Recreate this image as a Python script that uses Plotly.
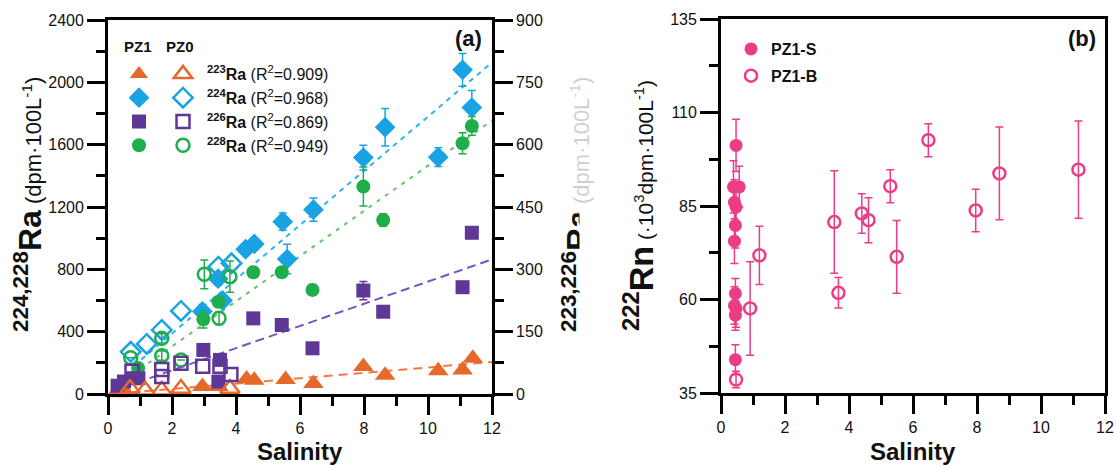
import plotly.graph_objects as go

W, H = 1116, 468
FONT = "Liberation Sans, Arial, sans-serif"

# ---------------- Panel (a): radium isotopes vs salinity ----------------
# 224Ra / 228Ra use the left axis, 223Ra / 226Ra the right axis (dpm/100L)
ra223_pz1_sal = [0.25, 0.4, 0.55, 2.95, 3.45, 4.33, 4.57, 5.55, 6.42, 7.98, 8.66, 10.32, 11.08, 11.4]
ra223_pz1_val = [3, 5, 4, 18, 18, 36, 33, 35, 25, 66, 45, 56, 58, 86]
ra223_pz0_sal = [0.69, 1.16, 1.68, 2.28, 3.81]
ra223_pz0_val = [13, 9, 9, 13, 13]

ra224_pz1_sal = [2.95, 3.44, 3.58, 4.3, 4.57, 5.46, 5.6, 6.42, 7.98, 8.66, 10.32, 11.08, 11.37]
ra224_pz1_val = [530, 740, 600, 929, 963, 1106, 866, 1183, 1517, 1712, 1520, 2080, 1838]
ra224_pz1_err = [45, 40, 30, 30, 40, 55, 95, 75, 80, 120, 60, 105, 110]
ra224_pz0_sal = [0.71, 1.21, 1.68, 2.28, 3.45, 3.86]
ra224_pz0_val = [271, 321, 411, 533, 817, 839]

ra226_pz1_sal = [0.3, 0.5, 0.75, 0.95, 2.98, 3.45, 3.5, 4.54, 5.43, 6.39, 7.98, 8.6, 11.08, 11.37]
ra226_pz1_val = [20, 30, 38, 38, 106, 30, 82, 182, 166, 110, 249, 198, 257, 388]
ra226_pz1_err = [0, 0, 0, 0, 0, 0, 0, 0, 0, 0, 22, 0, 0, 10]
ra226_pz0_sal = [0.75, 1.68, 1.68, 2.28, 2.96, 3.5, 3.84]
ra226_pz0_val = [55, 59, 42, 74, 67, 67, 47]

ra228_pz1_sal = [0.94, 2.98, 3.45, 4.54, 5.43, 6.39, 7.98, 8.6, 11.08, 11.37]
ra228_pz1_val = [167, 479, 592, 781, 781, 668, 1331, 1117, 1609, 1720]
ra228_pz1_err = [0, 55, 0, 0, 0, 35, 125, 40, 68, 60]
ra228_pz0_sal = [0.71, 1.68, 1.68, 2.28, 3.01, 3.47, 3.81]
ra228_pz0_val = [233, 357, 246, 218, 768, 486, 753]
ra228_pz0_err = [None, 30, 30, None, 92, 40, 100]

# Linear fits drawn as dashed lines (slope, intercept, first salinity)
fit_slope = [6.5, 174.0, 26.7, 145.0]
fit_intercept = [-1.0, 40.0, 3.5, 15.0]
fit_start = [0.2, 0.8, 1.3, 1.0]
fit_end = 12.0

isotopes = ["223", "224", "226", "228"]
r_squared = ["0.909", "0.968", "0.869", "0.949"]

# ---------------- Panel (b): 222Rn vs salinity ----------------
rn_s_sal = [0.47, 0.39, 0.57, 0.42, 0.47, 0.45, 0.42, 0.45, 0.42, 0.47, 0.45, 0.45]
rn_s_val = [101.2, 90.1, 90.1, 86.0, 84.7, 79.8, 75.6, 61.6, 58.4, 57.6, 55.8, 43.9]
rn_s_err = [7.0, 7.0, 5.5, 6.0, 6.0, 6.0, 6.0, 4.0, 5.0, 5.0, 4.0, 4.0]
rn_b_sal = [0.47, 0.91, 1.2, 3.54, 3.67, 4.4, 4.61, 5.29, 5.49, 6.48, 7.96, 8.7, 11.17]
rn_b_val = [38.6, 57.6, 71.8, 80.7, 61.8, 83.0, 81.2, 90.3, 71.4, 102.6, 83.8, 93.7, 94.7]
rn_b_err = [2.2, 12.5, 7.8, 13.7, 4.1, 5.3, 6.0, 4.4, 9.7, 4.4, 5.7, 12.4, 13.0]

# ---------------- Styling ----------------
COL = {"223": "#E5692B", "224": "#1AA3E3", "226": "#5F3797", "228": "#1FAE4B"}
FIT_COL = {"223": "#F4783F", "224": "#2AB5EE", "226": "#7A52C4", "228": "#5FC765"}
FIT_DASH = {"223": "9px,6px", "224": "5px,5px", "226": "9px,5px", "228": "4px,6px"}
SYM = {"223": "triangle-up", "224": "diamond", "226": "square", "228": "circle"}
SIZE = {"223": 18, "224": 16, "226": 14, "228": 14}
PINK = "#EC3C85"


def px_x(x):
    return x / W


def px_y(y):
    return 1 - y / H


series = {
    "223": (ra223_pz1_sal, ra223_pz1_val, None, ra223_pz0_sal, ra223_pz0_val, None),
    "224": (ra224_pz1_sal, ra224_pz1_val, ra224_pz1_err, ra224_pz0_sal, ra224_pz0_val, None),
    "226": (ra226_pz1_sal, ra226_pz1_val, ra226_pz1_err, ra226_pz0_sal, ra226_pz0_val, None),
    "228": (ra228_pz1_sal, ra228_pz1_val, ra228_pz1_err, ra228_pz0_sal, ra228_pz0_val, ra228_pz0_err),
}
right_axis = {"223", "226"}

fig = go.Figure()


def err_dict(err, color):
    if err is None:
        return None
    return dict(type="data", array=err, visible=True, color=color, thickness=1.5, width=4)


# regression lines first so the markers sit on top
for iso, m, b, x0 in zip(isotopes, fit_slope, fit_intercept, fit_start):
    xs = [x0, fit_end]
    fig.add_trace(go.Scatter(
        x=xs, y=[m * v + b for v in xs], mode="lines",
        line=dict(color=FIT_COL[iso], width=2, dash=FIT_DASH[iso]),
        yaxis="y2" if iso in right_axis else "y", xaxis="x",
        showlegend=False, hoverinfo="skip"))

# PZ1 (filled) markers -> first legend column
for iso in isotopes:
    s1, v1, e1, s0, v0, e0 = series[iso]
    fig.add_trace(go.Scatter(
        x=s1, y=v1, mode="markers", name="",
        marker=dict(symbol=SYM[iso], size=SIZE[iso], color=COL[iso], line=dict(width=0)),
        error_y=err_dict(e1, COL[iso]), cliponaxis=False,
        xaxis="x", yaxis="y2" if iso in right_axis else "y",
        legend="legend", legendgroup="a1" + iso))

# PZ0 (open) markers -> second legend column with the labels
for iso, r2 in zip(isotopes, r_squared):
    s1, v1, e1, s0, v0, e0 = series[iso]
    fig.add_trace(go.Scatter(
        x=s0, y=v0, mode="markers",
        name=f"<b><sup>{iso}</sup>Ra</b> (R<sup>2</sup>=" + r2 + ")",
        marker=dict(symbol=SYM[iso] + "-open", size=SIZE[iso] - 1, color=COL[iso],
                    line=dict(width=2.5, color=COL[iso])),
        error_y=err_dict(e0, COL[iso]), cliponaxis=False,
        xaxis="x", yaxis="y2" if iso in right_axis else "y",
        legend="legend2", legendgroup="a0" + iso))

# Panel (b)
fig.add_trace(go.Scatter(
    x=rn_s_sal, y=rn_s_val, mode="markers", name="<b>PZ1-S</b>",
    marker=dict(symbol="circle", size=13, color=PINK, line=dict(width=0)),
    error_y=dict(type="data", array=rn_s_err, color=PINK, thickness=1.5, width=4),
    xaxis="x3", yaxis="y3", legend="legend3", legendgroup="bS", cliponaxis=False))
fig.add_trace(go.Scatter(
    x=rn_b_sal, y=rn_b_val, mode="markers", name="<b>PZ1-B</b>",
    marker=dict(symbol="circle-open", size=12, color=PINK, line=dict(width=2.5, color=PINK)),
    error_y=dict(type="data", array=rn_b_err, color=PINK, thickness=1.5, width=4),
    xaxis="x3", yaxis="y3", legend="legend3", legendgroup="bB", cliponaxis=False))

# ---------------- Axes ----------------
LW = 2.8
tickfont = dict(family=FONT, size=16, color="#111")
common = dict(showgrid=False, zeroline=False, showline=True, linecolor="black", linewidth=LW,
              ticks="outside", ticklen=18, tickwidth=LW, tickcolor="black", tickfont=tickfont,
              automargin=False)

ax_a = [px_x(108), px_x(492)]
ay_a = [px_y(394), px_y(20)]
ax_b = [px_x(721), px_x(1105)]
ay_b = [px_y(393), px_y(19)]

fig.update_layout(
    xaxis=dict(domain=ax_a, range=[0, 12], dtick=2, mirror=True, anchor="y",
               minor=dict(dtick=1, ticklen=9, tickwidth=LW, tickcolor="black", ticks="outside"),
               **common),
    yaxis=dict(domain=ay_a, range=[0, 2400], dtick=400, anchor="x",
               minor=dict(dtick=200, ticklen=9, tickwidth=LW, tickcolor="black", ticks="outside"),
               **common),
    yaxis2=dict(range=[0, 900], dtick=150, overlaying="y", side="right", anchor="x",
                minor=dict(dtick=75, ticklen=9, tickwidth=LW, tickcolor="black", ticks="outside"),
                **common),
    xaxis3=dict(domain=ax_b, range=[0, 12], dtick=2, mirror=True, anchor="y3",
                minor=dict(dtick=1, ticklen=9, tickwidth=LW, tickcolor="black", ticks="outside"),
                **common),
    yaxis3=dict(domain=ay_b, range=[35, 135], tick0=35, dtick=25, mirror=True, anchor="x3",
                minor=dict(tick0=35, dtick=12.5, ticklen=9, tickwidth=LW, tickcolor="black",
                           ticks="outside"),
                **common),
)

legend_common = dict(bgcolor="rgba(0,0,0,0)", borderwidth=0, xanchor="left", yanchor="top",
                     itemclick=False, itemdoubleclick=False,
                     font=dict(family=FONT, size=16, color="#111"))
fig.update_layout(
    legend=dict(x=px_x(119), y=px_y(57), traceorder="normal", **legend_common),
    legend2=dict(x=px_x(159), y=px_y(57), itemwidth=38, traceorder="normal", **legend_common),
    legend3=dict(x=px_x(731), y=px_y(32), itemwidth=30, traceorder="grouped",
                 tracegroupgap=3, **legend_common),
)

# ---------------- Text ----------------
annotations = [
    dict(text="<b>PZ1</b>", x=px_x(138), y=px_y(47), font=dict(size=15)),
    dict(text="<b>PZ0</b>", x=px_x(180), y=px_y(47), font=dict(size=15)),
    dict(text="<b>(a)</b>", x=px_x(484), y=px_y(24), xanchor="right", yanchor="top",
         font=dict(size=22)),
    dict(text="<b>(b)</b>", x=px_x(1098), y=px_y(24), xanchor="right", yanchor="top",
         font=dict(size=22)),
    dict(text="<b>Salinity</b>", x=px_x(300), y=px_y(436), yanchor="top", font=dict(size=24)),
    dict(text="<b>Salinity</b>", x=px_x(913), y=px_y(436), yanchor="top", font=dict(size=24)),
    dict(text='<span style="font-size:32px"><b><sup>224,228</sup>Ra</b></span>'
              ' (dpm·100L<sup>-1</sup>)',
         x=px_x(28), y=px_y(205), textangle=-90, font=dict(size=22)),
    dict(text='<span style="font-size:32px"><b><sup>223,226</sup>Ra</b></span>'
              ' (dpm·100L<sup>-1</sup>)',
         x=px_x(576), y=px_y(205), textangle=-90, font=dict(size=22)),
    # panel (b)'s white backdrop laps over part of panel (a)'s right-hand title
    dict(text=" ", x=px_x(580), y=px_y(135), width=44, height=156, borderpad=0,
         bgcolor="rgba(255,255,255,0.8)", font=dict(size=10)),
    dict(text=" ", x=px_x(591), y=px_y(232), width=22, height=46, borderpad=0,
         bgcolor="rgba(255,255,255,1)", font=dict(size=10)),
    dict(text='<span style="font-size:34px"><b><sup>222</sup>Rn</b></span>'
              ' (·10<sup>3</sup>dpm·100L<sup>-1</sup>)',
         x=px_x(638), y=px_y(206), textangle=-90, font=dict(size=21)),
]
for a in annotations:
    a.setdefault("xanchor", "center")
    a.setdefault("yanchor", "middle")
    a["xref"] = "paper"
    a["yref"] = "paper"
    a["showarrow"] = False
    f = a["font"]
    f.setdefault("family", FONT)
    f.setdefault("color", "#111")

fig.update_layout(
    annotations=annotations,
    width=W, height=H, margin=dict(l=0, r=0, t=0, b=0, autoexpand=False),
    paper_bgcolor="white", plot_bgcolor="white",
    font=dict(family=FONT, color="#111"),
    showlegend=True,
)

fig.write_html("out.html")
